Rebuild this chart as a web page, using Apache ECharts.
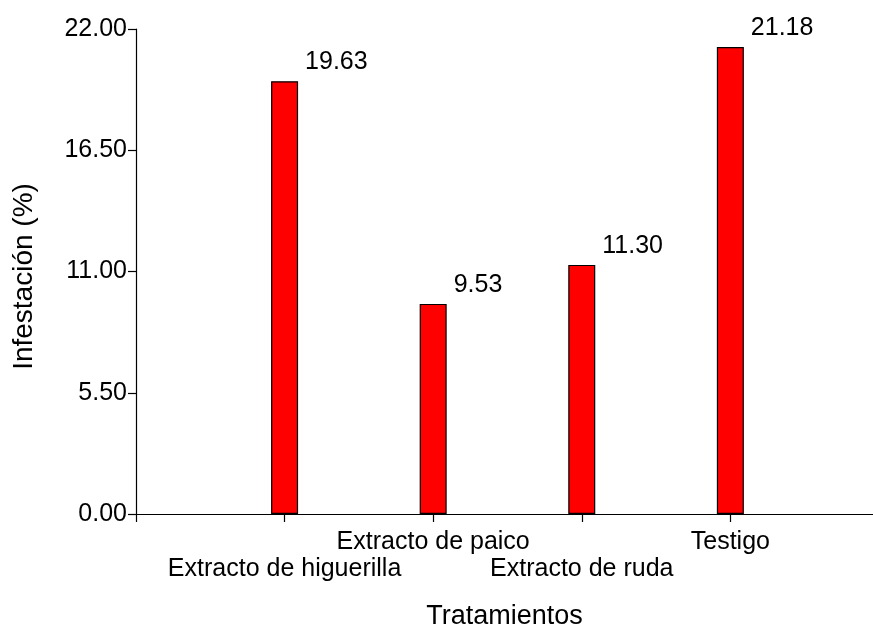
<!DOCTYPE html>
<html>
<head>
<meta charset="utf-8">
<script src="https://cdn.jsdelivr.net/npm/echarts@6/dist/echarts.min.js"></script>
<style>
    html, body { margin: 0; padding: 0; background: #fff; }
    #chart { width: 873px; height: 635px; }
</style>
</head>
<body>
<div id="chart"></div>
<script>
// datos del grafico
var categories = ['Extracto de higuerilla', 'Extracto de paico', 'Extracto de ruda', 'Testigo'];
var values = [19.63, 9.53, 11.30, 21.18];
var positions = [1, 2, 3, 4];
var yMin = 0, yMax = 22, yStep = 5.5;

var font = 'Liberation Sans, Arial, sans-serif';

var barData = positions.map(function(p, i) {
    return [p, values[i]];
});

var myChart = echarts.init(document.getElementById('chart'));
var option = {
    backgroundColor: '#fff',
    animation: false,
    grid: {
        left: 136,
        right: 0,
        top: 29,
        bottom: 118
    },
    xAxis: {
        type: 'value',
        min: 0,
        max: 4.96,
        interval: 1,
        name: 'Tratamientos',
        nameLocation: 'middle',
        nameGap: 89,
        nameTextStyle: { fontFamily: font, fontSize: 27, color: '#000' },
        splitLine: { show: false },
        axisLine: { lineStyle: { color: '#000', width: 1.2 } },
        axisTick: { length: 8, lineStyle: { color: '#000', width: 1.2 } },
        axisLabel: {
            margin: 15,
            fontFamily: font,
            fontSize: 25,
            lineHeight: 27,
            color: '#000',
            showMaxLabel: false,
            formatter: function(v) {
                var idx = positions.indexOf(v);
                if (idx < 0) return '';
                // etiquetas alternadas
                return idx % 2 === 0 ? '\n' + categories[idx] : categories[idx];
            }
        }
    },
    yAxis: {
        type: 'value',
        min: yMin,
        max: yMax,
        interval: yStep,
        name: 'Infestación (%)',
        nameLocation: 'middle',
        nameGap: 98,
        nameTextStyle: { fontFamily: font, fontSize: 28, color: '#000', padding: [0, 10, 0, 0] },
        splitLine: { show: false },
        axisLine: { show: true, lineStyle: { color: '#000', width: 1.2 } },
        axisTick: { show: true, length: 8, lineStyle: { color: '#000', width: 1.2 } },
        axisLabel: {
            margin: 9,
            fontFamily: font,
            fontSize: 25,
            color: '#000',
            formatter: function(v) { return v.toFixed(2); }
        }
    },
    series: [{
        type: 'bar',
        data: barData,
        barWidth: 27,
        itemStyle: {
            color: '#ff0000',
            borderColor: '#000',
            borderWidth: 1.2
        },
        label: {
            show: true,
            position: [34, -19],
            verticalAlign: 'middle',
            align: 'left',
            fontFamily: font,
            fontSize: 25,
            color: '#000',
            formatter: function(p) { return p.value[1].toFixed(2); }
        }
    }]
};
myChart.setOption(option, true);
</script>
</body>
</html>
